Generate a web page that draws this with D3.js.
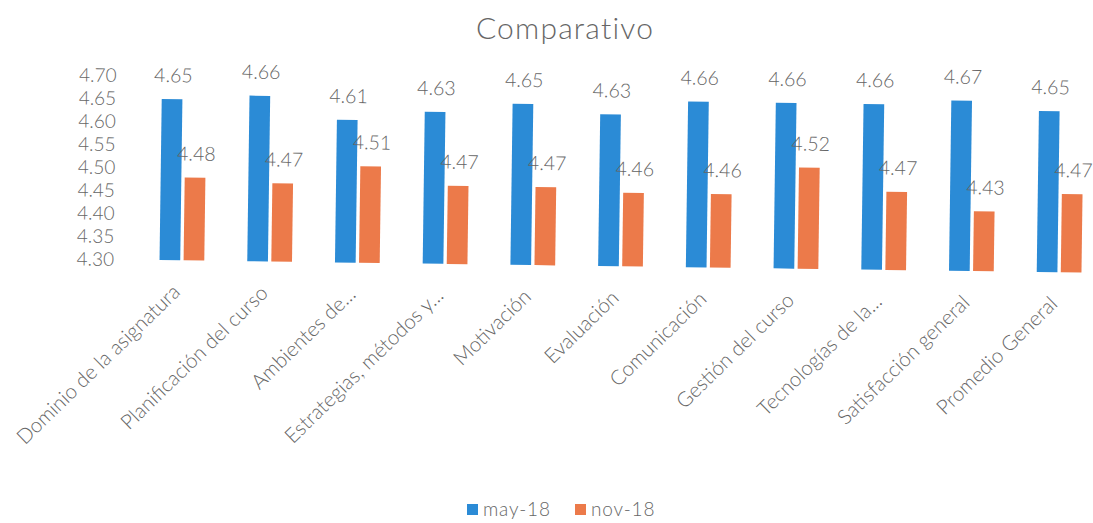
<!DOCTYPE html>
<html><head><meta charset="utf-8">
<script src="https://cdn.jsdelivr.net/npm/d3@7"></script>
<style>
html,body{margin:0;padding:0;background:#fff;}
svg{display:block;font-family:Lato,"Open Sans",sans-serif;font-weight:300;}
</style></head>
<body><svg id="chart" width="1093" height="523"></svg>
<script>
const categories = ["Dominio de la asignatura","Planificación del curso","Ambientes de...","Estrategias, métodos y...","Motivación","Evaluación","Comunicación","Gestión del curso","Tecnologías de la...","Satisfacción general","Promedio General"];
const seriesNames = ["may-18","nov-18"];
const may18 = [4.65,4.66,4.61,4.63,4.65,4.63,4.66,4.66,4.66,4.67,4.65];
const nov18 = [4.48,4.47,4.51,4.47,4.47,4.46,4.46,4.52,4.47,4.43,4.47];
const yTicks = [4.30,4.35,4.40,4.45,4.50,4.55,4.60,4.65,4.70];
const colors = ["#2b8bd6","#ec7a4a"];
const textColor = "#666666";

const svg = d3.select("#chart");
const root = svg.append("g").attr("transform","rotate(0.78,600,266)");

const x0 = d3.scaleBand().domain(categories).range([138,1103]).paddingInner(0.49).paddingOuter(0.245);
const x1 = d3.scaleBand().domain(seriesNames).range([0,x0.bandwidth()]).paddingInner(0.14);
const y = d3.scaleLinear().domain([4.30,4.70]).range([266,82]);

// title
svg.append("text").attr("x",565).attr("y",39).attr("text-anchor","middle")
  .attr("font-size",30).attr("letter-spacing",1.2).attr("fill",textColor).text("Comparativo");

// y axis
const yAxis = d3.axisLeft(y).tickValues(yTicks).tickFormat(d3.format(".2f")).tickSize(0).tickPadding(0);
const ya = root.append("g").attr("transform","translate(114,0)").call(yAxis);
ya.select(".domain").remove();
ya.selectAll("text").attr("font-size",19).attr("fill",textColor)
  .attr("font-family","Lato,sans-serif").attr("font-weight",300);

// x axis labels
const xAxis = d3.axisBottom(x0).tickSize(0).tickPadding(0);
const xa = root.append("g").attr("transform","translate(0,266)").call(xAxis);
xa.select(".domain").remove();
xa.selectAll("text").attr("font-size",20.5).attr("fill",textColor)
  .attr("font-family","Lato,sans-serif").attr("font-weight",300)
  .attr("text-anchor","end").attr("dy",0)
  .attr("transform","translate(0,33) rotate(-45)");

const data = categories.map((c,i)=>({cat:c, vals:[{s:seriesNames[0],v:may18[i]},{s:seriesNames[1],v:nov18[i]}]}));
const groups = root.selectAll("g.grp").data(data).join("g").attr("class","grp")
  .attr("transform",d=>`translate(${x0(d.cat)},0)`);
groups.selectAll("rect").data(d=>d.vals).join("rect")
  .attr("x",d=>x1(d.s)).attr("width",x1.bandwidth())
  .attr("y",d=>y(d.v)).attr("height",d=>y(4.30)-y(d.v))
  .attr("fill",(d,i)=>colors[i]);
groups.selectAll("text.val").data(d=>d.vals).join("text").attr("class","val")
  .attr("x",d=>x1(d.s)+x1.bandwidth()/2+1).attr("y",d=>y(d.v)-17)
  .attr("text-anchor","middle").attr("font-size",19.5).attr("fill",textColor)
  .text(d=>d3.format(".2f")(d.v));

// legend
const lg = svg.append("g").attr("transform","translate(467,516)");
const items = lg.selectAll("g").data(seriesNames).join("g")
  .attr("transform",(d,i)=>`translate(${i*108},0)`);
items.append("rect").attr("x",0).attr("y",-12).attr("width",11).attr("height",11).attr("fill",(d,i)=>colors[i]);
items.append("text").attr("x",16).attr("y",0).attr("font-size",19).attr("letter-spacing",0.8).attr("fill",textColor).text(d=>d);
</script>
</body></html>
